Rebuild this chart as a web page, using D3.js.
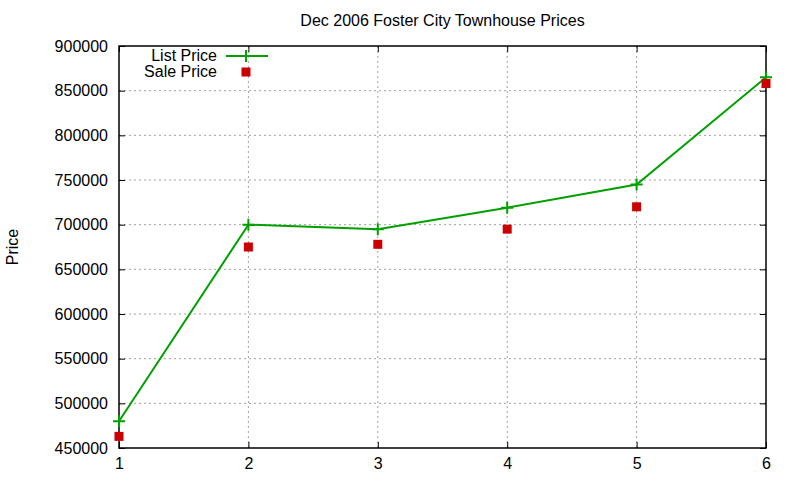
<!DOCTYPE html>
<html>
<head>
<meta charset="utf-8">
<script src="https://cdn.jsdelivr.net/npm/d3@7"></script>
<style>
  body { margin: 0; background: #fff; }
  text { font-family: "Liberation Sans", Arial, sans-serif; fill: #000; }
</style>
</head>
<body>
<div id="wrapper"></div>
<script>
// values
var houses = [1, 2, 3, 4, 5, 6]
var listPrice = [480000, 700000, 695000, 719000, 745000, 865000]
var salePrice = [463000, 675000, 678000, 695000, 720000, 858000]
var yTicks = [450000, 500000, 550000, 600000, 650000, 700000, 750000, 800000, 850000, 900000]
var seriesNames = ["List Price", "Sale Price"]

var width = 800, height = 480
var margin = {top: 46, right: 34, bottom: 32, left: 119}
var w = width - margin.left - margin.right
var h = height - margin.top - margin.bottom

const svg = d3.select("#wrapper")
    .append("svg")
    .attr("width", width)
    .attr("height", height)

var bounds = svg.append("g")
    .attr("transform", "translate(" + margin.left + "," + margin.top + ")")

var xScale = d3.scaleLinear().domain([1, 6]).range([0, w])
var yScale = d3.scaleLinear().domain([450000, 900000]).range([h, 0])

// dotted grid
bounds.append("g").selectAll("line")
    .data(yTicks.slice(1, -1))
    .join("line")
    .attr("x1", 0).attr("x2", w)
    .attr("y1", d => yScale(d)).attr("y2", d => yScale(d))
    .attr("stroke", "#a0a0a0").attr("stroke-dasharray", "2,3")
bounds.append("g").selectAll("line")
    .data(houses.slice(1, -1))
    .join("line")
    .attr("y1", 0).attr("y2", h)
    .attr("x1", d => xScale(d)).attr("x2", d => xScale(d))
    .attr("stroke", "#a0a0a0").attr("stroke-dasharray", "2,3")

// axes (ticks point inwards, mirrored like gnuplot)
var yAxis = bounds.append("g")
    .call(d3.axisLeft(yScale).tickValues(yTicks).tickFormat(d3.format("d")).tickSize(-6).tickPadding(11))
var yAxisR = bounds.append("g")
    .attr("transform", "translate(" + w + ",0)")
    .call(d3.axisRight(yScale).tickValues(yTicks).tickFormat("").tickSize(-6))
var xAxis = bounds.append("g")
    .attr("transform", "translate(0," + h + ")")
    .call(d3.axisBottom(xScale).tickValues(houses).tickFormat(d3.format("d")).tickSize(-6).tickPadding(10))
var xAxisT = bounds.append("g")
    .call(d3.axisTop(xScale).tickValues(houses).tickFormat("").tickSize(-6))

bounds.selectAll(".domain").remove()
bounds.selectAll(".tick line").attr("stroke", "#000")
bounds.selectAll(".tick text").style("font-size", "16px")

bounds.append("rect")
    .attr("width", w).attr("height", h)
    .attr("fill", "none").attr("stroke", "#000").attr("stroke-width", 1.5)

// list price line
var lineGenerator = d3.line()
    .x((d, i) => xScale(houses[i]))
    .y(d => yScale(d))

bounds.append("path")
    .attr("d", lineGenerator(listPrice))
    .attr("fill", "none")
    .attr("stroke", "#00a000")
    .attr("stroke-width", 2)

function cross(g, x, y) {
    g.append("path")
        .attr("d", "M" + (x - 6) + "," + y + "h12M" + x + "," + (y - 6) + "v12")
        .attr("stroke", "#00a000").attr("stroke-width", 2)
}
listPrice.forEach((d, i) => cross(bounds, xScale(houses[i]), yScale(d)))

// sale price squares
bounds.selectAll(".sale")
    .data(salePrice)
    .join("rect")
    .attr("class", "sale")
    .attr("x", (d, i) => xScale(houses[i]) - 4.5)
    .attr("y", d => yScale(d) - 4.5)
    .attr("width", 9).attr("height", 9)
    .attr("fill", "#cc0000")

// legend
var legend = svg.append("g")
legend.append("text").attr("x", 217).attr("y", 61).attr("text-anchor", "end")
    .style("font-size", "16px").text(seriesNames[0])
legend.append("line").attr("x1", 226).attr("x2", 268).attr("y1", 56).attr("y2", 56)
    .attr("stroke", "#00a000").attr("stroke-width", 2)
cross(legend, 246, 56)
legend.append("text").attr("x", 217).attr("y", 77).attr("text-anchor", "end")
    .style("font-size", "16px").text(seriesNames[1])
legend.append("rect").attr("x", 241.5).attr("y", 67.5).attr("width", 9).attr("height", 9)
    .attr("fill", "#cc0000")

// titles
svg.append("text")
    .attr("x", margin.left + w / 2).attr("y", 26)
    .attr("text-anchor", "middle")
    .style("font-size", "16px")
    .text("Dec 2006 Foster City Townhouse Prices")

svg.append("text")
    .attr("transform", "translate(18," + (margin.top + h / 2) + ") rotate(-90)")
    .attr("text-anchor", "middle")
    .style("font-size", "16px")
    .text("Price")
</script>
</body>
</html>
